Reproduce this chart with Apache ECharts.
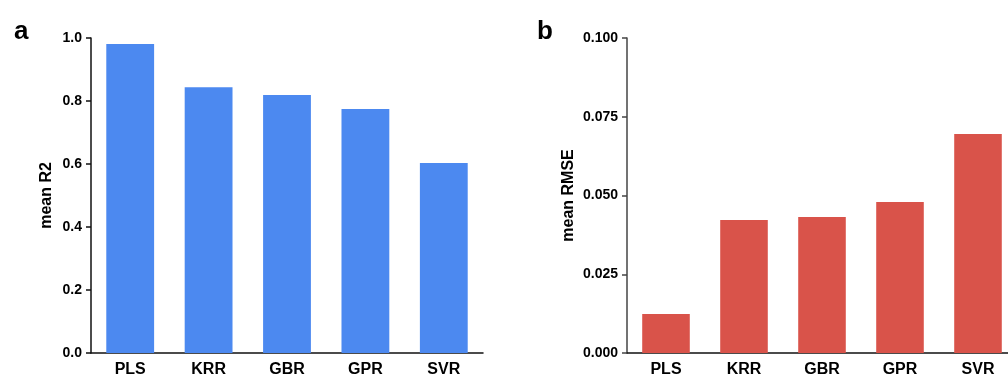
<!DOCTYPE html>
<html>
<head>
<meta charset="utf-8">
<script src="https://cdn.jsdelivr.net/npm/echarts@6/dist/echarts.min.js"></script>
<style>
  html, body { margin: 0; padding: 0; background: #fff; }
  #chart { width: 1008px; height: 378px; }
</style>
</head>
<body>
<div id="chart"></div>
<script>
// data
const models = ["PLS", "KRR", "GBR", "GPR", "SVR"];
const meanR2 = [0.981, 0.844, 0.819, 0.775, 0.603];
const meanRMSE = [0.0124, 0.0422, 0.0432, 0.0479, 0.0695];
const r2Ticks = { min: 0, max: 1.0, interval: 0.2 };
const rmseTicks = { min: 0, max: 0.1, interval: 0.025 };

const fontFam = "'Liberation Sans', Arial, sans-serif";

function yAxis(idx, name, ticks, digits, gap, lineColor) {
  return {
    type: "value",
    gridIndex: idx,
    min: ticks.min,
    max: ticks.max,
    interval: ticks.interval,
    name: name,
    nameLocation: "middle",
    nameGap: gap,
    nameTextStyle: { color: "#000", fontSize: 16, fontWeight: "bold", fontFamily: fontFam },
    axisLine: { show: true, lineStyle: { color: lineColor, width: 1.5 } },
    axisTick: { show: true, length: 5, lineStyle: { color: lineColor, width: 1.5 } },
    axisLabel: {
      margin: 9,
      color: "#000",
      fontSize: 14,
      fontWeight: "bold",
      fontFamily: fontFam,
      formatter: (v) => v.toFixed(digits),
    },
    splitLine: { show: false },
  };
}

function xAxis(idx) {
  return {
    type: "category",
    gridIndex: idx,
    data: models,
    axisLine: { lineStyle: { color: "#111", width: 1.5 } },
    axisTick: { alignWithLabel: true, length: 5, lineStyle: { color: "#111", width: 1.5 } },
    axisLabel: {
      margin: 9,
      color: "#000",
      fontSize: 16,
      fontWeight: "bold",
      fontFamily: fontFam,
    },
  };
}

const chart = echarts.init(document.getElementById("chart"));
const option = {
  animation: false,
  backgroundColor: "#fff",
  title: [
    { text: "a", left: 9, top: 14, textStyle: { fontSize: 26, fontWeight: "bold", color: "#000", fontFamily: fontFam } },
    { text: "b", left: 532, top: 14, textStyle: { fontSize: 26, fontWeight: "bold", color: "#000", fontFamily: fontFam } },
  ],
  grid: [
    { left: 91, top: 38, width: 392, height: 315, outerBoundsMode: "none" },
    { left: 627, top: 38, width: 390, height: 315, outerBoundsMode: "none" },
  ],
  xAxis: [xAxis(0), xAxis(1)],
  yAxis: [
    yAxis(0, "mean R2", r2Ticks, 1, 36, "#111"),
    yAxis(1, "mean RMSE", rmseTicks, 3, 50, "#444"),
  ],
  series: [
    {
      type: "bar",
      xAxisIndex: 0,
      yAxisIndex: 0,
      data: meanR2,
      barWidth: "61%",
      itemStyle: { color: "#4C89F0" },
    },
    {
      type: "bar",
      xAxisIndex: 1,
      yAxisIndex: 1,
      data: meanRMSE,
      barWidth: "61%",
      itemStyle: { color: "#D9534A" },
    },
  ],
};
chart.setOption(option);
</script>
</body>
</html>
